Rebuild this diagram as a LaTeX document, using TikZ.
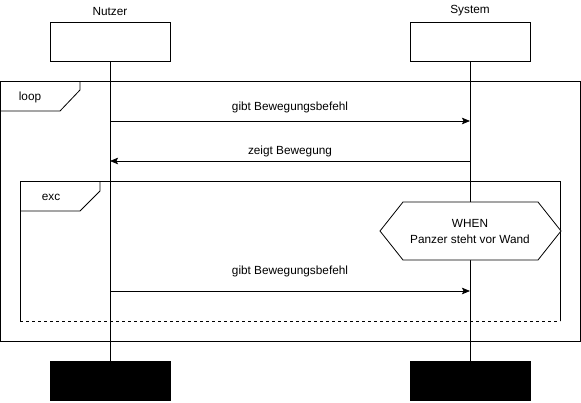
\documentclass[tikz,border=0pt]{standalone}
\usepackage{fontspec}
\setmainfont{Liberation Sans}
\usepackage{tikz}
\usetikzlibrary{arrows.meta}
\tikzstyle{actor} = [draw=black, thick, minimum width=120pt, minimum height=39pt, inner sep=0pt]
\tikzstyle{actorend} = [actor, fill=black]
\tikzstyle{lbl} = [font={\fontsize{11.8}{14}\selectfont}, inner sep=1pt]
\tikzstyle{msg} = [thick, -{Stealth[length=8pt, width=6.5pt, inset=1.5pt]}]
\tikzstyle{frame} = [draw=black, thick]

\begin{document}
\begin{tikzpicture}[x=1pt, y=-1pt]
        \useasboundingbox (0,0) rectangle (581,402);
        \node[actor](nutzer) at (110,41.5){};
        \node[actor](system) at (470,41.5){};
        \node[lbl](nutzername) at (110,11){Nutzer};
        \node[lbl](systemname) at (470,11){System};
        \node[actorend](nutzerend) at (110,381){};
        \node[actorend](systemend) at (470,381){};
        \draw[thick](nutzer)--(nutzerend);
        \draw[thick](system)--(systemend);
        % loop frame
        \draw[frame](0.5,81) rectangle (580,341);
        \draw[frame](80,81)--(80,90)--(60,111)--(0.5,111);
        \node[lbl](loop) at (30,97){loop};
        % exc frame
        \draw[frame](20,321)--(20,181)--(560,181)--(560,321);
        \draw[thick,dash pattern=on 3pt off 3pt](20,321)--(560,321);
        \draw[frame](100,181)--(100,191)--(80,211)--(20,211);
        \node[lbl](exc) at (51,197){exc};
        % messages
        \coordinate(m1) at (0,121);
        \coordinate(m2) at (0,161);
        \coordinate(m3) at (0,291);
        \node[lbl](t1) at (290,107){gibt Bewegungsbefehl};
        \draw[msg](nutzer |- m1)--(system |- m1);
        \node[lbl](t2) at (290,151){zeigt Bewegung};
        \draw[msg](system |- m2)--(nutzer |- m2);
        \node[lbl](t3) at (290,271){gibt Bewegungsbefehl};
        \draw[msg](nutzer |- m3)--(system |- m3);
        % guard
        \draw[frame, fill=white](380,231)--(403,202)--(538,202)--(561,231)--(538,260)--(403,260)--cycle;
        \node[lbl, align=center, font={\fontsize{11.8}{16}\selectfont}](when) at (470,231){WHEN\\Panzer steht vor Wand};
      \end{tikzpicture}
\end{document}
